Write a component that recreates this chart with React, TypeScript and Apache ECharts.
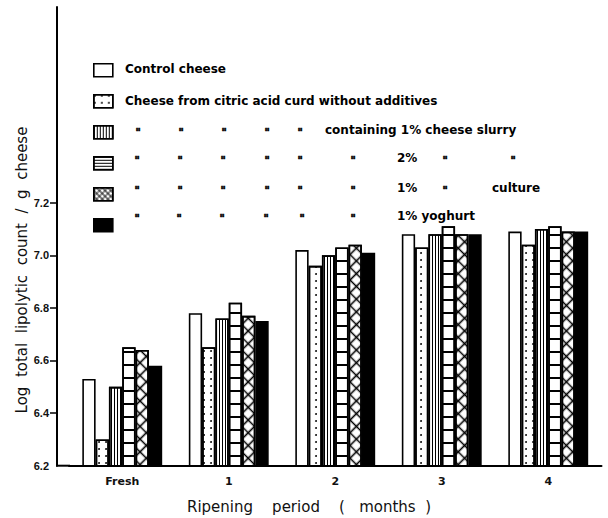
import React, { useEffect, useRef } from 'react';
import * as echarts from 'echarts';

const categories = ['Fresh', '1', '2', '3', '4'];
const seriesNames = [
  'Control cheese',
  'Cheese from citric acid curd without additives',
  'containing 1% cheese slurry',
  'containing 2% cheese slurry',
  'containing 1% cheese slurry culture',
  'containing 1% yoghurt',
];
const control = [6.53, 6.78, 7.02, 7.08, 7.09];
const citric = [6.30, 6.65, 6.96, 7.03, 7.04];
const slurry1 = [6.50, 6.76, 7.00, 7.08, 7.10];
const slurry2 = [6.65, 6.82, 7.03, 7.11, 7.11];
const culture = [6.64, 6.77, 7.04, 7.08, 7.09];
const yoghurt = [6.58, 6.75, 7.01, 7.08, 7.09];
const yTickLabels = [6.2, 6.4, 6.6, 6.8, 7.0, 7.2];
const yTickMarks = [6.4, 6.6, 6.8, 7.0, 7.2];

const DITTO = '"';
const legendTexts: string[][] = [
  ['Control cheese'],
  ['Cheese from citric acid curd without additives'],
  [DITTO, DITTO, DITTO, DITTO, DITTO, 'containing 1% cheese slurry'],
  [DITTO, DITTO, DITTO, DITTO, DITTO, DITTO, '2%', DITTO, DITTO],
  [DITTO, DITTO, DITTO, DITTO, DITTO, DITTO, '1%', DITTO, 'culture'],
  [DITTO, DITTO, DITTO, DITTO, DITTO, DITTO, '1% yoghurt'],
];
const yTitle = 'Log\u00a0 total\u00a0 lipolytic\u00a0 count\u00a0 /\u00a0 g\u00a0 cheese';
const xTitle = 'Ripening\u00a0\u00a0\u00a0 period\u00a0\u00a0\u00a0 (\u00a0\u00a0 months\u00a0 )';

// layout (positions only)
const legendX: number[][] = [
  [125],
  [125],
  [138, 181, 224, 267, 300, 325],
  [137, 180, 223, 267, 300, 353, 397, 445, 513],
  [137, 180, 223, 267, 300, 353, 397, 445, 492],
  [137, 179, 222, 266, 302, 353, 397],
];
const legendY = [69, 101, 130, 158, 188, 216];

const decals: any[] = [
  null,
  { symbol: 'circle', symbolSize: 0.9, color: '#000', dashArrayX: [2, 5], dashArrayY: [2, 5], rotation: 0 },
  { symbol: 'rect', symbolSize: 1, color: '#000', dashArrayX: [1, 2], dashArrayY: [4, 0], rotation: 0 },
  { symbol: 'rect', symbolSize: 1, color: '#000', dashArrayX: [4, 0], dashArrayY: [2, 11], rotation: 0 },
  {
    symbol: 'path://M0,4.1H10V5.9H0Z M4.1,0H5.9V10H4.1Z',
    symbolSize: 1,
    color: '#000',
    dashArrayX: [9, 0],
    dashArrayY: [9, 0],
    rotation: Math.PI / 4,
  },
  null,
];
const legendDecal2 = { symbol: 'rect', symbolSize: 1, color: '#000', dashArrayX: [4, 0], dashArrayY: [1, 2], rotation: 0 };
const legendDecalCross = {
  symbol: 'path://M0,4H10V6H0Z M4,0H6V10H4Z',
  symbolSize: 1,
  color: '#000',
  dashArrayX: [4, 0],
  dashArrayY: [4, 0],
  rotation: Math.PI / 4,
};

export default function App() {
  const ref = useRef<HTMLDivElement>(null);
  useEffect(() => {
    const chart = echarts.init(ref.current!, null, { renderer: 'svg' });
    const seriesData = [control, citric, slurry1, slurry2, culture, yoghurt];
    const graphics: any[] = [
      {
        type: 'line',
        shape: { x1: 56, y1: 465.7, x2: 70, y2: 465.7 },
        style: { stroke: '#000', lineWidth: 2 },
      },
      {
        type: 'text',
        x: 22,
        y: 270,
        rotation: Math.PI / 2,
        style: {
          text: yTitle,
          fill: '#111',
          fontSize: 15,
          fontWeight: 'normal',
          fontFamily: 'DejaVu Sans',
          align: 'center',
          verticalAlign: 'middle',
        },
      },
      {
        type: 'text',
        x: 309,
        y: 507,
        style: {
          text: xTitle,
          fill: '#111',
          fontSize: 15,
          fontWeight: 'normal',
          fontFamily: 'DejaVu Sans',
          align: 'center',
          verticalAlign: 'middle',
        },
      },
    ];
    legendTexts.forEach((row, r) => {
      row.forEach((t, k) => {
        const isDitto = t === DITTO;
        const style: any = {
          text: t,
          fill: '#000',
          fontSize: isDitto ? 10 : 12,
          fontWeight: 'bold',
          fontFamily: 'DejaVu Sans',
          align: isDitto ? 'center' : 'left',
          verticalAlign: 'middle',
        };
        if (isDitto) {
          style.stroke = '#000';
          style.lineWidth = 0.6;
        }
        graphics.push({
          type: 'text',
          x: legendX[r][k],
          y: isDitto ? legendY[r] + 2 : legendY[r],
          style,
        });
      });
    });

    chart.setOption({
      animation: false,
      backgroundColor: '#fff',
      grid: { left: 69, right: 6.5, top: 7, bottom: 52.3, containLabel: false },
      legend: {
        orient: 'vertical',
        left: 93,
        top: 63,
        padding: 0,
        itemWidth: 19,
        itemHeight: 13,
        itemGap: 16.4,
        icon: 'rect',
        selectedMode: false,
        formatter: () => '',
        textStyle: { fontSize: 10, lineHeight: 13, color: 'transparent' },
        itemStyle: { borderColor: '#000', borderWidth: 1.6 },
        data: seriesNames.map((n, i) =>
          i === 3
            ? { name: n, itemStyle: { decal: legendDecal2 } }
            : i === 4
            ? { name: n, itemStyle: { decal: legendDecalCross } }
            : n
        ),
      },
      xAxis: {
        type: 'category',
        data: categories,
        axisLine: { show: true, lineStyle: { color: '#000', width: 2 } },
        axisTick: { show: false },
        axisLabel: {
          color: '#111',
          fontWeight: 'bold',
          fontSize: 11,
          fontFamily: 'DejaVu Sans',
          margin: 10,
        },
        splitLine: { show: false },
      },
      yAxis: {
        type: 'value',
        min: 6.2,
        max: 7.944,
        offset: 12,
        axisLine: { show: true, lineStyle: { color: '#000', width: 2 } },
        axisTick: {
          show: true,
          length: 7,
          customValues: yTickMarks,
          lineStyle: { color: '#000', width: 1.5 },
        },
        axisLabel: {
          customValues: yTickLabels,
          formatter: (v: number) => v.toFixed(1),
          color: '#111',
          fontWeight: 'bold',
          fontSize: 11,
          fontFamily: 'Liberation Sans',
          margin: 8,
        },
        splitLine: { show: false },
      },
      series: seriesData.map((d, i) => {
        const itemStyle: any = {
          color: i === 5 ? '#000' : '#fff',
          borderColor: '#000',
          borderWidth: 1.6,
        };
        if (decals[i]) itemStyle.decal = decals[i];
        return {
          type: 'bar',
          name: seriesNames[i],
          data: d,
          barGap: '0%',
          barCategoryGap: '25%',
          itemStyle,
          emphasis: { disabled: true },
        };
      }),
      graphic: graphics,
    });
    return () => chart.dispose();
  }, []);
  return (
    <div
      ref={ref}
      style={{ position: 'fixed', left: 0, top: 0, width: 608, height: 518, background: '#fff' }}
    />
  );
}
